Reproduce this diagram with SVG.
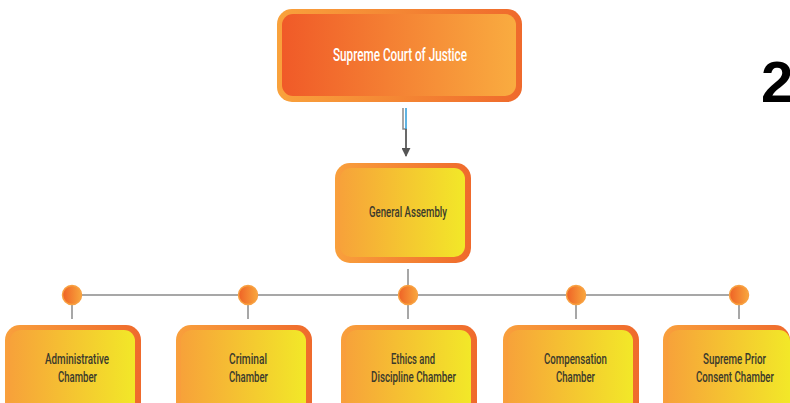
<svg xmlns="http://www.w3.org/2000/svg" width="790" height="403" viewBox="0 0 790 403">
  <defs>
    <linearGradient id="topFill" x1="0" y1="0" x2="1" y2="0">
      <stop offset="0" stop-color="#f05a28"/>
      <stop offset="1" stop-color="#f9ac40"/>
    </linearGradient>
    <linearGradient id="topBorder" x1="0" y1="0" x2="1" y2="0">
      <stop offset="0" stop-color="#f9a23c"/>
      <stop offset="1" stop-color="#ef6a2c"/>
    </linearGradient>
    <linearGradient id="boxFill" x1="0" y1="0" x2="1" y2="0">
      <stop offset="0" stop-color="#f7a23a"/>
      <stop offset="1" stop-color="#f2e828"/>
    </linearGradient>
    <linearGradient id="boxBorder" x1="0" y1="0" x2="1" y2="0">
      <stop offset="0" stop-color="#f9a03c"/>
      <stop offset="1" stop-color="#ef6a2c"/>
    </linearGradient>
    <linearGradient id="dotFill" x1="0" y1="0" x2="1" y2="0">
      <stop offset="0" stop-color="#ef6226"/>
      <stop offset="1" stop-color="#f8a63c"/>
    </linearGradient>
    <marker id="arrow" viewBox="0 0 10 10" refX="9" refY="5" markerWidth="9" markerHeight="9" orient="auto" markerUnits="userSpaceOnUse">
      <path d="M0,0 L10,5 L0,10 z" fill="#555"/>
    </marker>
  </defs>
  <style>
    .border-top { fill: url(#topBorder); }
    .fill-top { fill: url(#topFill); }
    .border { fill: url(#boxBorder); }
    .fill { fill: url(#boxFill); }
    .lbl { font-family: "Roboto", "Liberation Sans", sans-serif; font-size: 14px; font-weight: 500; fill: #3b3a2c; text-anchor: middle; }
    .lbl-top { font-family: "Roboto", "Liberation Sans", sans-serif; font-size: 18px; font-weight: 500; fill: #ffffff; text-anchor: middle; }
    .line { stroke: #8a8a8a; stroke-width: 1.5; fill: none; }
    .dot { fill: url(#dotFill); stroke: #f8a040; stroke-width: 1.5; }
  </style>

  <g id="connectors">
    <path class="line" d="M403,108 V129 H406 V150" stroke="#9a9a9a"/>
    <path d="M406,108 V129" stroke="#2a9ad8" stroke-width="1.5" fill="none"/>
    <path d="M406,129 V156" stroke="#555" stroke-width="1.5" fill="none" marker-end="url(#arrow)"/>
    <line class="line" x1="408" y1="269" x2="408" y2="295"/>
    <line class="line" x1="72" y1="295" x2="739" y2="295"/>
    <line class="line" x1="72" y1="295" x2="72" y2="319"/>
    <line class="line" x1="248" y1="295" x2="248" y2="319"/>
    <line class="line" x1="408" y1="295" x2="408" y2="319"/>
    <line class="line" x1="576" y1="295" x2="576" y2="319"/>
    <line class="line" x1="739" y1="295" x2="739" y2="319"/>
    <circle class="dot" cx="72" cy="295" r="9.5"/>
    <circle class="dot" cx="248" cy="295" r="9.5"/>
    <circle class="dot" cx="408" cy="295" r="9.5"/>
    <circle class="dot" cx="576" cy="295" r="9.5"/>
    <circle class="dot" cx="739" cy="295" r="9.5"/>
  </g>

  <g id="supreme-court">
    <rect class="border-top" x="277" y="9" width="245" height="93" rx="15"/>
    <rect class="fill-top" x="282" y="14" width="234" height="82" rx="11"/>
    <text class="lbl-top" x="400" y="61" textLength="134" lengthAdjust="spacingAndGlyphs">Supreme Court of Justice</text>
  </g>

  <g id="general-assembly">
    <rect class="border" x="335" y="163" width="136" height="100" rx="15"/>
    <rect class="fill" x="340" y="168" width="125" height="89" rx="11"/>
    <text class="lbl" x="408" y="217" textLength="78" lengthAdjust="spacingAndGlyphs">General Assembly</text>
  </g>

  <g id="administrative-chamber">
    <rect class="border" x="5" y="325" width="136" height="95" rx="15"/>
    <rect class="fill" x="10" y="330" width="125" height="85" rx="11"/>
    <text class="lbl" x="77" y="364" textLength="64" lengthAdjust="spacingAndGlyphs">Administrative</text>
    <text class="lbl" x="77.5" y="382" textLength="39" lengthAdjust="spacingAndGlyphs">Chamber</text>
  </g>

  <g id="criminal-chamber">
    <rect class="border" x="176" y="325" width="136" height="95" rx="15"/>
    <rect class="fill" x="181" y="330" width="125" height="85" rx="11"/>
    <text class="lbl" x="248" y="364" textLength="38" lengthAdjust="spacingAndGlyphs">Criminal</text>
    <text class="lbl" x="248.5" y="382" textLength="39" lengthAdjust="spacingAndGlyphs">Chamber</text>
  </g>

  <g id="ethics-chamber">
    <rect class="border" x="341" y="325" width="136" height="95" rx="15"/>
    <rect class="fill" x="346" y="330" width="125" height="85" rx="11"/>
    <text class="lbl" x="413" y="364" textLength="44" lengthAdjust="spacingAndGlyphs">Ethics and</text>
    <text class="lbl" x="413.5" y="382" textLength="85" lengthAdjust="spacingAndGlyphs">Discipline Chamber</text>
  </g>

  <g id="compensation-chamber">
    <rect class="border" x="503" y="325" width="136" height="95" rx="15"/>
    <rect class="fill" x="508" y="330" width="125" height="85" rx="11"/>
    <text class="lbl" x="575.5" y="364" textLength="63" lengthAdjust="spacingAndGlyphs">Compensation</text>
    <text class="lbl" x="575.5" y="382" textLength="39" lengthAdjust="spacingAndGlyphs">Chamber</text>
  </g>

  <g id="supreme-prior-consent-chamber">
    <rect class="border" x="663" y="325" width="127" height="95" rx="15"/>
    <rect class="fill" x="668" y="330" width="122" height="85" rx="11"/>
    <text class="lbl" x="734.5" y="364" textLength="63" lengthAdjust="spacingAndGlyphs">Supreme Prior</text>
    <text class="lbl" x="735" y="382" textLength="78" lengthAdjust="spacingAndGlyphs">Consent Chamber</text>
  </g>

  <text x="761" y="102" font-family="'Liberation Sans', Arial, sans-serif" font-size="58" font-weight="bold" fill="#000">2</text>
</svg>
